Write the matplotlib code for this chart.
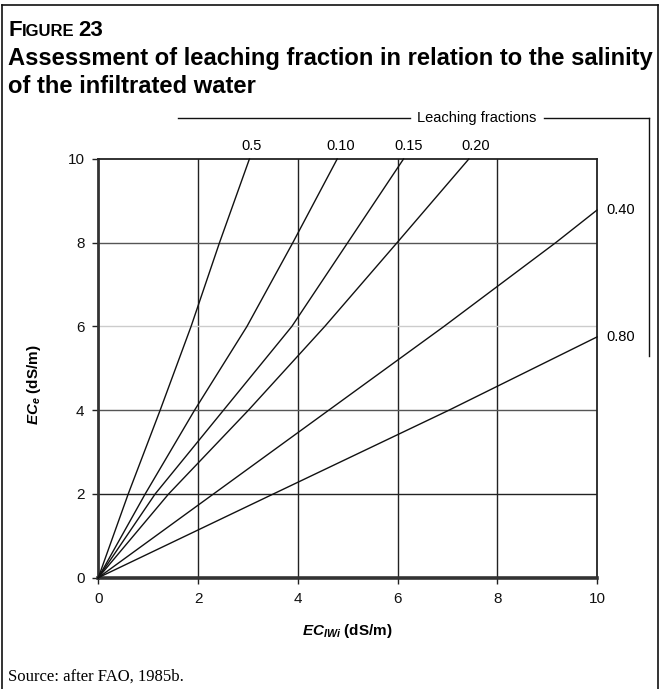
import matplotlib
matplotlib.use("Agg")
import matplotlib.pyplot as plt
from matplotlib.lines import Line2D

plt.rcParams['font.family'] = ['Liberation Sans', 'DejaVu Sans']
plt.rcParams['mathtext.fontset'] = 'custom'
plt.rcParams['mathtext.it'] = 'Liberation Sans:bold:italic'
plt.rcParams['mathtext.rm'] = 'Liberation Sans:bold'
plt.rcParams['mathtext.bf'] = 'Liberation Sans:bold'

# ---- data ----
ece_levels = [0, 2, 4, 6, 8, 10]
lf_005_x = [0, 0.60, 1.24, 1.86, 2.43, 3.03]
lf_010_x = [0, 0.94, 1.93, 2.98, 3.90, 4.79]
lf_015_x = [0, 1.14, 2.51, 3.88, 5.00, 6.12]
lf_020_x = [0, 1.41, 3.01, 4.54, 5.99, 7.43]
lf_040_x = [0, 2.31, 4.62, 6.93, 9.17, 10.0]
lf_040_y = [0, 2, 4, 6, 8, 8.78]
lf_080_x = [0, 3.51, 7.03, 10.0]
lf_080_y = [0, 2, 4, 5.75]
top_labels = ["0.5", "0.10", "0.15", "0.20"]
top_label_x = [3.08, 4.86, 6.22, 7.56]
right_labels = ["0.40", "0.80"]
right_label_y = [8.78, 5.75]
x_ticks = [0, 2, 4, 6, 8, 10]
y_ticks = [0, 2, 4, 6, 8, 10]

W, H = 659, 689
fig = plt.figure(figsize=(W / 100, H / 100), dpi=100)
fig.patch.set_facecolor('white')

ax = fig.add_axes([98.3 / W, 1 - 577.7 / H, (597 - 98.3) / W, (577.7 - 159) / H])
ax.set_xlim(0, 10)
ax.set_ylim(0, 10)

# grid lines with the varying shades of the reference
for xv in [2, 4, 6, 8]:
    ax.axvline(xv, color='#222222', lw=1.0, zorder=1)
hcolors = {2: '#222222', 4: '#555555', 6: '#cccccc', 8: '#555555'}
for yv, c in hcolors.items():
    ax.axhline(yv, color=c, lw=1.0, zorder=1)

series = [
    (lf_005_x, ece_levels),
    (lf_010_x, ece_levels),
    (lf_015_x, ece_levels),
    (lf_020_x, ece_levels),
    (lf_040_x, lf_040_y),
    (lf_080_x, lf_080_y),
]
for xs, ys in series:
    ax.plot(xs, ys, color='#111111', lw=1.0, zorder=3, clip_on=False)

ax.set_xticks(x_ticks)
ax.set_yticks(y_ticks)
ax.set_xticklabels([str(v) for v in x_ticks])
ax.set_yticklabels([str(v) for v in y_ticks])
ax.tick_params(direction='out', length=4, width=1, colors='#222222',
               labelsize=11, labelcolor='#111111', pad=6)

for side in ['top', 'right']:
    ax.spines[side].set_color('#222222')
    ax.spines[side].set_linewidth(1.3)
ax.spines['left'].set_color('#333333')
ax.spines['left'].set_linewidth(2.0)
ax.spines['bottom'].set_color('#333333')
ax.spines['bottom'].set_linewidth(2.6)

ax.set_xlabel(r"$EC_{IWi}$ (dS/m)", fontsize=11, fontweight='bold', labelpad=12)
ax.set_ylabel(r"$EC_{e}$ (dS/m)", fontsize=11, fontweight='bold')
ax.yaxis.set_label_coords(-0.11, 0.46)

# curve labels
for lab, xv in zip(top_labels, top_label_x):
    ax.text(xv, 10.3, lab, ha='center', va='center', fontsize=10.5, clip_on=False)
for lab, yv in zip(right_labels, right_label_y):
    ax.text(10.18, yv, lab, ha='left', va='center', fontsize=10.5, clip_on=False)

def px(x, y):
    return (x / W, 1 - y / H)

# "Leaching fractions" header with bracket lines
fig.text(*px(477, 118), "Leaching fractions", ha='center', va='center', fontsize=10.5)
fig.add_artist(Line2D([178 / W, 410 / W], [1 - 118 / H] * 2, color='#111111', lw=1.0))
fig.add_artist(Line2D([544 / W, 649 / W], [1 - 118 / H] * 2, color='#111111', lw=1.0))
fig.add_artist(Line2D([649 / W, 649 / W], [1 - 118 / H, 1 - 356 / H], color='#111111', lw=1.0))

# figure title (small caps "FIGURE 23")
fig.canvas.draw()
r = fig.canvas.get_renderer()
t1 = fig.text(*px(8, 36), "F", fontsize=16, fontweight='bold', va='baseline', ha='left')
bb = t1.get_window_extent(r)
t2 = fig.text(bb.x1 / W, 1 - 36 / H, "IGURE", fontsize=12, fontweight='bold',
              va='baseline', ha='left')
bb2 = t2.get_window_extent(r)
fig.text(bb2.x1 / W + 4 / W, 1 - 36 / H, "23", fontsize=16, fontweight='bold',
         va='baseline', ha='left')

fig.text(*px(8, 65), "Assessment of leaching fraction in relation to the salinity",
         fontsize=17.1, fontweight='bold', va='baseline', ha='left')
fig.text(*px(8, 93), "of the infiltrated water",
         fontsize=17.1, fontweight='bold', va='baseline', ha='left')

fig.text(*px(8, 677), "Source: after FAO, 1985b.", family=['Liberation Serif', 'DejaVu Serif'],
         fontsize=12, va='center', ha='left')

# outer frame (left, top, right)
fc = '#111111'
fig.add_artist(Line2D([2 / W, 2 / W], [0, 1 - 5 / H], color=fc, lw=1.2))
fig.add_artist(Line2D([2 / W, 657.5 / W], [1 - 5 / H] * 2, color=fc, lw=1.2))
fig.add_artist(Line2D([657.5 / W, 657.5 / W], [0, 1 - 5 / H], color=fc, lw=1.2))

fig.savefig("out.png", dpi=100, facecolor='white')
